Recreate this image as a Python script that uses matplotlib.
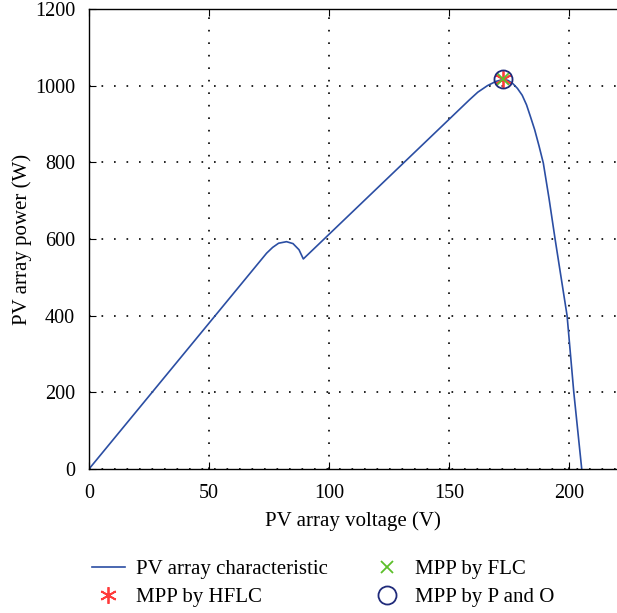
import numpy as np
import matplotlib.pyplot as plt
from matplotlib.lines import Line2D

# PV characteristic
voltage = [0, 74, 76.5, 79, 82.3, 85, 87.5, 89.3, 150, 158.5, 162, 166, 169.5, 172.4,
           174.5, 176.5, 178.5, 180.5, 182.3, 184, 185.7, 187.5, 189.3, 191.7,
           194.2, 196.7, 199.2, 202, 205.3]
power = [0, 563, 578, 589, 593, 588, 572, 548, 912, 963, 983, 1000, 1011, 1016,
         1014, 1006, 993, 975, 950, 918, 885, 843, 798, 705,
         600, 500, 400, 200, 0]

mpp_hflc = (172.5, 1017)
mpp_flc = (172.5, 1017)
mpp_po = (172.5, 1017)

plt.rcParams['font.family'] = ['Liberation Serif', 'DejaVu Serif']

fig = plt.figure(figsize=(6.17, 6.13), dpi=100)
ax = fig.add_axes([89/617, 1-469/613, 528/617, 460/613])

ax.plot(voltage, power, color='#2b4ea3', lw=1.2, label='PV array characteristic')
ax.plot(*mpp_hflc, ls='none', marker=(6, 2, 0), ms=12, mew=1.3, color='#ff3b3b',
        label='MPP by HFLC')
ax.plot(*mpp_flc, ls='none', marker='x', ms=8, mew=1.3, color='#5cbf2a',
        label='MPP by FLC')
ax.plot(*mpp_po, ls='none', marker='o', ms=13, mew=1.3, mfc='none', color='#1f2a7a',
        label='MPP by P and O')

ax.set_xlim(0, 220)
ax.set_ylim(0, 1200)
ax.set_xticks([0, 50, 100, 150, 200])
ax.set_yticks([0, 200, 400, 600, 800, 1000, 1200])
ax.grid(True, color='black', lw=1.2, linestyle=(0, (1, 6.5)))
ax.set_axisbelow(True)
ax.spines['right'].set_visible(False)
for s in ['left', 'bottom', 'top']:
    ax.spines[s].set_linewidth(1.0)
ax.tick_params(direction='in', length=5, top=True, right=False, labelsize=14.5)
ax.tick_params(axis='y', pad=10)
ax.tick_params(axis='x', pad=11)
ax.set_xlabel('PV array voltage (V)', fontsize=15, labelpad=6)
ax.set_ylabel('PV array power (W)', fontsize=15, labelpad=2)

h, l = ax.get_legend_handles_labels()
fig.legend(h, l, ncol=2, loc='upper left', bbox_to_anchor=(0.118, 0.118),
           frameon=False, fontsize=15, handlelength=1.6, columnspacing=2.0,
           labelspacing=0.4, handletextpad=0.55)

fig.savefig('out.png', dpi=100)
